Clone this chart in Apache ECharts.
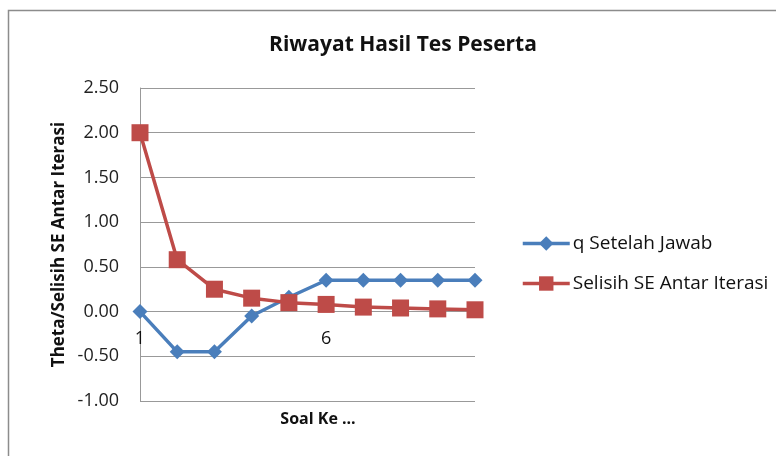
<!DOCTYPE html>
<html>
<head>
<meta charset="utf-8">
<script src="https://cdn.jsdelivr.net/npm/echarts@6/dist/echarts.min.js"></script>
<style>
  html, body { margin: 0; padding: 0; background: #fff; }
  #main { width: 776px; height: 456px; }
</style>
</head>
<body>
<div id="main"></div>
<script>
var soal = ['1', '2', '3', '4', '5', '6', '7', '8', '9', '10'];
var theta = [0.00, -0.45, -0.45, -0.05, 0.16, 0.35, 0.35, 0.35, 0.35, 0.35];
var selisihSE = [2.00, 0.58, 0.25, 0.15, 0.10, 0.08, 0.05, 0.04, 0.03, 0.02];
var namaSeri = ['q Setelah Jawab', 'Selisih SE Antar Iterasi'];

var fontF = '"Open Sans", "Noto Sans", sans-serif';
var chartDom = document.getElementById('main');
var myChart = echarts.init(chartDom);
var option;

// axis sits on the zero line, like the Excel original
var gridTop = 88, gridBottom = 55, yMin = -1, yMax = 2.5;
var zeroOffset = -(456 - gridTop - gridBottom) * (0 - yMin) / (yMax - yMin);

option = {
  animation: false,
  textStyle: { fontFamily: fontF },
  title: [
    {
      text: 'Riwayat Hasil Tes Peserta',
      left: 398,
      textAlign: 'center',
      top: 30,
      textStyle: { fontSize: 21, fontWeight: 'bold', color: '#111', fontFamily: fontF }
    },
    {
      text: 'Soal Ke ...',
      left: 313,
      textAlign: 'center',
      top: 406,
      textStyle: { fontSize: 16, fontWeight: 'bold', color: '#111', fontFamily: fontF }
    }
  ],
  graphic: [{
    type: 'rect',
    shape: { x: 8.5, y: 10.5, width: 800, height: 500 },
    style: { fill: 'none', stroke: '#8c8c8c', lineWidth: 1.5 },
    z: -1
  }],
  legend: {
    orient: 'vertical',
    left: 516,
    top: 229,
    itemGap: 21,
    itemWidth: 47,
    itemHeight: 18,
    lineStyle: { width: 3.5 },
    textStyle: { fontSize: 19, color: '#111', fontFamily: fontF, padding: [0, 0, 0, -2] },
    data: namaSeri
  },
  grid: { left: 140, right: 301, top: gridTop, bottom: gridBottom },
  xAxis: {
    type: 'category',
    data: soal,
    boundaryGap: false,
    offset: zeroOffset,
    axisLine: { onZero: false, lineStyle: { color: '#999', width: 1 } },
    axisTick: { show: false },
    axisLabel: { interval: 4, margin: 18, fontSize: 18, color: '#111', fontFamily: fontF }
  },
  yAxis: {
    type: 'value',
    min: yMin,
    max: yMax,
    interval: 0.5,
    name: 'Theta/Selisih SE Antar Iterasi',
    nameLocation: 'middle',
    nameRotate: 90,
    nameGap: 72,
    nameTextStyle: { fontSize: 17, fontWeight: 'bold', color: '#111', fontFamily: fontF },
    axisLine: { show: true, lineStyle: { color: '#999', width: 1 } },
    axisTick: { show: false },
    axisLabel: {
      margin: 21,
      fontSize: 18,
      color: '#222',
      fontFamily: fontF,
      formatter: function (v) { return v.toFixed(2); }
    },
    splitLine: { lineStyle: { color: '#999', width: 1 } }
  },
  series: [
    {
      name: namaSeri[0],
      type: 'line',
      data: theta,
      symbol: 'diamond',
      symbolSize: 15,
      lineStyle: { color: '#4a7ebb', width: 3.5 },
      itemStyle: { color: '#4a7ebb' },
      z: 3
    },
    {
      name: namaSeri[1],
      type: 'line',
      data: selisihSE,
      symbol: 'rect',
      symbolSize: 17,
      lineStyle: { color: '#be4b48', width: 3.5 },
      itemStyle: { color: '#be4b48' },
      z: 4
    }
  ]
};
option && myChart.setOption(option);
</script>
</body>
</html>
